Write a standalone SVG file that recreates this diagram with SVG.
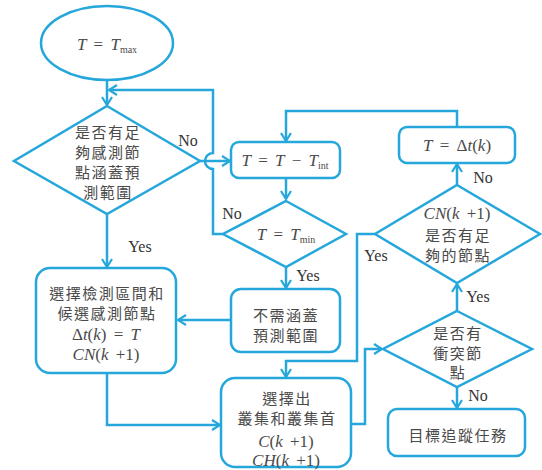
<svg xmlns="http://www.w3.org/2000/svg" width="542" height="470" viewBox="0 0 542 470">
<style>
.s{fill:#fff;stroke:#25A7DC;stroke-width:2.5}
.c{fill:none;stroke:#25A7DC;stroke-width:2.5;marker-end:url(#a)}
.zh{font-family:"Noto Sans CJK TC","Noto Sans CJK SC",sans-serif;font-size:15px;letter-spacing:1.5px;fill:#4a4a4a;text-anchor:middle}
.m{font-family:"Liberation Serif",serif;font-size:17px;fill:#4a4a4a;text-anchor:middle;word-spacing:3px}
.i{font-style:italic}
.sub{font-size:10px}
.lb{font-family:"Liberation Serif",serif;font-size:16px;fill:#333;text-anchor:middle}
</style>
<defs>
<marker id="a" viewBox="0 0 12 12" refX="10" refY="6" markerWidth="12" markerHeight="12" markerUnits="userSpaceOnUse" orient="auto">
<path d="M2,1 L10,6 L2,11" fill="none" stroke="#25A7DC" stroke-width="2.2"/>
</marker>
</defs>
<rect width="542" height="470" fill="#fff"/>
<g id="connectors">
<path class="c" d="M107,80 V105"/>
<path class="c" d="M223,234 H213 V169 A8,8 0 0 1 213,153 V90 H109"/>
<path class="c" d="M200,161 H230"/>
<path class="c" d="M286,178 V199"/>
<path class="c" d="M286,267 V288"/>
<path class="c" d="M231,320 H178"/>
<path class="c" d="M107,214 V267"/>
<path class="c" d="M107,373 V425 H220"/>
<path class="c" d="M375,234 H357 V361 H286 V377"/>
<path class="c" d="M351,424 H365 V349 H382"/>
<path class="c" d="M457,387 V408"/>
<path class="c" d="M457,311 V284"/>
<path class="c" d="M457,185 V164"/>
<path class="c" d="M457,127 V111 H286 V141"/>
</g>
<g id="n1"><ellipse class="s" cx="107" cy="43" rx="66" ry="37"/>
<text class="m" x="107" y="50"><tspan class="i">T</tspan> = <tspan class="i">T</tspan><tspan class="sub" dy="3">max</tspan></text></g>
<g id="n2"><path class="s" d="M107,106 L200,161 L107,214 L14,161 Z"/>
<text class="zh" x="108" y="138">是否有足</text>
<text class="zh" x="108" y="158">夠感測節</text>
<text class="zh" x="108" y="178">點涵蓋預</text>
<text class="zh" x="108" y="198">測範圍</text></g>
<g id="n3"><rect class="s" x="231" y="142" width="109" height="36" rx="8"/>
<text class="m" x="285" y="166"><tspan class="i">T</tspan> = <tspan class="i">T</tspan> − <tspan class="i">T</tspan><tspan class="sub" dy="3">int</tspan></text></g>
<g id="n4"><path class="s" d="M286,201 L346,234 L286,267 L223,234 Z"/>
<text class="m" x="286" y="240"><tspan class="i">T</tspan> = <tspan class="i">T</tspan><tspan class="sub" dy="3">min</tspan></text></g>
<g id="n5"><rect class="s" x="231" y="289" width="109" height="63" rx="10"/>
<text class="zh" x="286" y="321">不需涵蓋</text>
<text class="zh" x="286" y="341">預測範圍</text></g>
<g id="n6"><rect class="s" x="36" y="268" width="140" height="105" rx="14"/>
<text class="zh" x="107" y="299">選擇檢測區間和</text>
<text class="zh" x="107" y="319">候選感測節點</text>
<text class="m" x="106" y="340">Δ<tspan class="i">t</tspan>(<tspan class="i">k</tspan>) = <tspan class="i">T</tspan></text>
<text class="m" x="106" y="360"><tspan class="i">CN</tspan>(<tspan class="i">k</tspan> +1)</text></g>
<g id="n7"><rect class="s" x="221" y="378" width="130" height="89" rx="14"/>
<text class="zh" x="287" y="404">選擇出</text>
<text class="zh" x="287" y="424">叢集和叢集首</text>
<text class="m" x="286" y="447"><tspan class="i">C</tspan>(<tspan class="i">k</tspan> +1)</text>
<text class="m" x="286" y="466"><tspan class="i">CH</tspan>(<tspan class="i">k</tspan> +1)</text></g>
<g id="n8"><path class="s" d="M457,311 L532,349 L457,387 L383,349 Z"/>
<text class="zh" x="458" y="339">是否有</text>
<text class="zh" x="458" y="359">衝突節</text>
<text class="zh" x="458" y="378">點</text></g>
<g id="n9"><rect class="s" x="388" y="409" width="137" height="47" rx="9"/>
<text class="zh" x="458" y="441">目標追蹤任務</text></g>
<g id="n10"><path class="s" d="M457,185 L540,234 L457,283 L375,234 Z"/>
<text class="m" x="457" y="219"><tspan class="i">CN</tspan>(<tspan class="i">k</tspan> +1)</text>
<text class="zh" x="458" y="241">是否有足</text>
<text class="zh" x="458" y="261">夠的節點</text></g>
<g id="n11"><rect class="s" x="399" y="127" width="116" height="36" rx="8"/>
<text class="m" x="457" y="151"><tspan class="i">T</tspan> = Δ<tspan class="i">t</tspan>(<tspan class="i">k</tspan>)</text></g>
<g id="labels">
<text class="lb" x="188" y="146">No</text>
<text class="lb" x="232" y="219">No</text>
<text class="lb" x="140" y="252">Yes</text>
<text class="lb" x="308" y="281">Yes</text>
<text class="lb" x="376" y="261">Yes</text>
<text class="lb" x="478" y="302">Yes</text>
<text class="lb" x="478" y="401">No</text>
<text class="lb" x="483" y="183">No</text>
</g>
</svg>
